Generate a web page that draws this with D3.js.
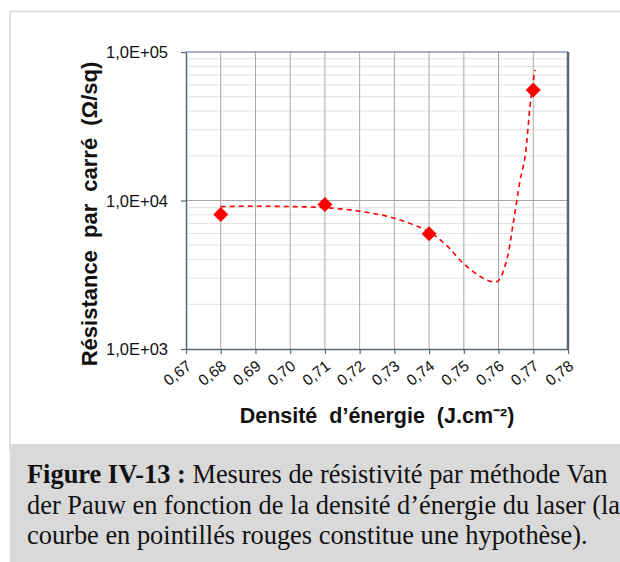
<!DOCTYPE html>
<html>
<head>
<meta charset="utf-8">
<script src="https://cdn.jsdelivr.net/npm/d3@7"></script>
<style>
  html, body { margin: 0; padding: 0; background: #fff; }
  body { width: 620px; height: 562px; overflow: hidden; position: relative; }
  svg { display: block; }
</style>
</head>
<body>
<svg id="chart" width="620" height="562"></svg>
<script>
// ---- data ----
const energyDensity = [0.68, 0.71, 0.74, 0.77];
const resistance = [8050, 9400, 5970, 55500];

// hypothesis dashed curve
const curveX = [0.68, 0.69, 0.70, 0.71, 0.72, 0.73, 0.74, 0.745, 0.75, 0.755, 0.7585, 0.760, 0.7623, 0.7642, 0.7662, 0.7676, 0.7693, 0.7705];
const curveY = [9100, 9150, 9100, 8950, 8470, 7600, 6150, 4980, 3750, 3050, 2830, 2890, 3940, 6970, 13600, 19570, 48800, 75700];

const xTickValues = [0.67, 0.68, 0.69, 0.70, 0.71, 0.72, 0.73, 0.74, 0.75, 0.76, 0.77, 0.78];
const yTickValues = [1e3, 1e4, 1e5];
const yTickLabels = ["1,0E+03", "1,0E+04", "1,0E+05"];
const xTitle = "Densité d’énergie (J.cm⁻²)";
const yTitle = "Résistance par carré (Ω/sq)";
const captionBold = "Figure IV-13 :";
const captionLines = [
  " Mesures de résistivité par méthode Van",
  "der Pauw en fonction de la densité d’énergie du laser (la",
  "courbe en pointillés rouges constitue une hypothèse)."
];

// ---- layout ----
const svg = d3.select("#chart");
const L = 186, R = 568, T = 52, B = 349;

const x = d3.scaleLinear().domain([0.67, 0.78]).range([L, R]);
const y = d3.scaleLog().domain([1e3, 1e5]).range([B, T]);

// outer frame
svg.append("rect").attr("x", 10).attr("y", 11.5).attr("width", 620).attr("height", 440)
  .attr("fill", "#fff").attr("stroke", "#d6d6d6").attr("stroke-width", 1.5);

// minor horizontal grid
const minors = [];
[1e3, 1e4].forEach(d => { for (let k = 2; k <= 9; k++) minors.push(d * k); });
svg.append("g").selectAll("line").data(minors).join("line")
  .attr("x1", L).attr("x2", R)
  .attr("y1", d => y(d)).attr("y2", d => y(d))
  .attr("stroke", "#e2e2e2").attr("stroke-width", 1);

// major horizontal grid
svg.append("g").selectAll("line").data([1e4]).join("line")
  .attr("x1", L).attr("x2", R)
  .attr("y1", d => y(d)).attr("y2", d => y(d))
  .attr("stroke", "#a8a8a8").attr("stroke-width", 1);

// vertical grid
svg.append("g").selectAll("line").data(xTickValues.slice(1, -1)).join("line")
  .attr("x1", d => x(d)).attr("x2", d => x(d))
  .attr("y1", T).attr("y2", B)
  .attr("stroke", "#a8a8a8").attr("stroke-width", 1);

// plot frame top/right
svg.append("line").attr("x1", L).attr("x2", R).attr("y1", T).attr("y2", T)
  .attr("stroke", "#8a96a3").attr("stroke-width", 1.5);
svg.append("line").attr("x1", R).attr("x2", R).attr("y1", T).attr("y2", B)
  .attr("stroke", "#5a6775").attr("stroke-width", 2.5);

// axes
const xAxis = d3.axisBottom(x).tickValues(xTickValues).tickSize(5).tickSizeOuter(0)
  .tickFormat(d => d3.format(".2f")(d).replace(".", ","));
const gx = svg.append("g").attr("transform", `translate(0,${B})`).call(xAxis);
gx.select(".domain").attr("stroke", "#5a6775").attr("stroke-width", 1.5);
gx.selectAll(".tick line").attr("stroke", "#5a6775").attr("stroke-width", 1.2);
gx.selectAll(".tick text")
  .attr("font-family", "Liberation Sans, Arial, sans-serif")
  .attr("font-size", 15.5).attr("fill", "#111")
  .attr("text-anchor", "end")
  .attr("dy", null).attr("y", 0)
  .attr("transform", "translate(6,19) rotate(-38)");

const yAxis = d3.axisLeft(y).tickValues(yTickValues).tickSize(5).tickSizeOuter(0)
  .tickFormat((d, i) => yTickLabels[i]);
const gy = svg.append("g").attr("transform", `translate(${L},0)`).call(yAxis);
gy.select(".domain").attr("stroke", "#5a6775").attr("stroke-width", 1.5);
gy.selectAll(".tick line").attr("stroke", "#5a6775").attr("stroke-width", 1.2);
gy.selectAll(".tick text")
  .attr("font-family", "Liberation Sans, Arial, sans-serif")
  .attr("font-size", 16.5).attr("fill", "#111").attr("x", -18).attr("dy", "0.35em");

// dashed hypothesis curve
const curvePts = curveX.map((v, i) => [v, curveY[i]]);
svg.append("path").datum(curvePts)
  .attr("d", d3.line().x(d => x(d[0])).y(d => y(d[1])).curve(d3.curveCatmullRom.alpha(0.5)))
  .attr("fill", "none").attr("stroke", "#ff0000").attr("stroke-width", 1.6)
  .attr("stroke-dasharray", "5,4");

// markers
const r = 7.5;
svg.append("g").selectAll("path").data(energyDensity.map((v, i) => [v, resistance[i]])).join("path")
  .attr("transform", d => `translate(${x(d[0])},${y(d[1])})`)
  .attr("d", `M0,${-r}L${r},0L0,${r}L${-r},0Z`)
  .attr("fill", "#ff0000");

// axis titles
svg.append("text").attr("x", 377).attr("y", 423)
  .attr("text-anchor", "middle")
  .attr("font-family", "Liberation Sans, Arial, sans-serif")
  .attr("font-weight", "bold").attr("font-size", 21.5).attr("word-spacing", 6)
  .attr("fill", "#111").text(xTitle);

svg.append("text").attr("transform", "translate(97,214) rotate(-90)")
  .attr("text-anchor", "middle")
  .attr("font-family", "Liberation Sans, Arial, sans-serif")
  .attr("font-weight", "bold").attr("font-size", 22).attr("word-spacing", 6)
  .attr("fill", "#111").text(yTitle);

// caption box
svg.append("rect").attr("x", 10).attr("y", 444).attr("width", 620).attr("height", 130)
  .attr("fill", "#d9d9d9");
const cap = svg.append("g")
  .attr("font-family", "Liberation Serif, Times New Roman, serif")
  .attr("font-size", 26.4).attr("fill", "#111");
const t1 = cap.append("text").attr("x", 27).attr("y", 483);
t1.append("tspan").attr("font-weight", "bold").text(captionBold);
t1.append("tspan").text(captionLines[0]);
cap.append("text").attr("x", 27).attr("y", 514).text(captionLines[1]);
cap.append("text").attr("x", 27).attr("y", 544).text(captionLines[2]);
</script>
</body>
</html>
